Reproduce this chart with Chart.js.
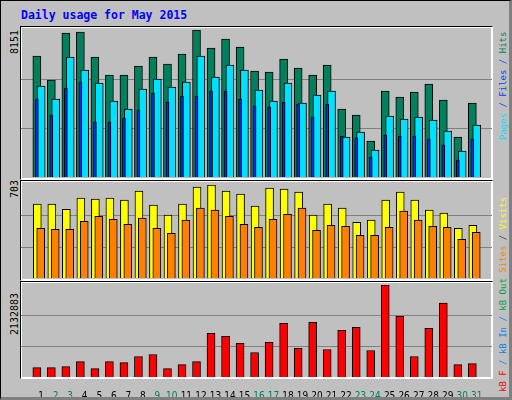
<!DOCTYPE html>
<html><head><meta charset="utf-8">
<script src="https://cdn.jsdelivr.net/npm/chart.js@4"></script>
<style>
body{margin:0;background:#fff;}
#wrap{position:absolute;left:0;top:0;width:508px;height:396px;background:#C0C0C0;border:1px solid #000;border-right:3px solid #808080;border-bottom:3px solid #808080;overflow:hidden;font-family:"DejaVu Sans Mono",monospace;}
.frame{position:absolute;border-top:1px solid #000;border-left:1px solid #000;border-right:1px solid #fff;border-bottom:1px solid #fff;box-shadow:0 0 0 1px #fff inset;}
canvas{position:absolute;}
.rot{position:absolute;transform-origin:0 0;transform:rotate(-90deg);white-space:nowrap;font-size:9px;line-height:10px;}
.title{position:absolute;left:20px;top:7px;color:#0000FF;font-weight:bold;font-size:11.5px;}
</style></head><body>
<div id="wrap">
<div class="title">Daily usage for May 2015</div>
<div class="frame" style="left:19px;top:25px;width:471px;height:152px"></div>
<div class="frame" style="left:19px;top:179px;width:471px;height:99px"></div>
<div class="frame" style="left:19px;top:280px;width:471px;height:96px"></div>
<canvas id="c1" style="left:20px;top:29px;width:471px;height:147px"></canvas>
<canvas id="c2" style="left:20px;top:184px;width:471px;height:93px"></canvas>
<canvas id="c3" style="left:20px;top:284px;width:471px;height:112px"></canvas>
<div class="rot" style="left:9px;top:53px;font-size:10px">8151</div>
<div class="rot" style="left:9px;top:197px;font-size:10px">703</div>
<div class="rot" style="left:9px;top:334px;font-size:10px">2132883</div>
<div class="rot" style="left:497px;top:139px"><span style="color:#00E0FF">Pages</span> <span style="color:#0040FF">/ Files /</span> <span style="color:#00805C">Hits</span></div>
<div class="rot" style="left:497px;top:391px"><span style="color:#FF0000">kB F</span> <span style="color:#0080FF">/ kB In /</span> <span style="color:#00A040">kB Out</span> <span style="color:#FF8000">Sites</span> <span style="color:#404040">/</span> <span style="color:#FFFF00">Visits</span></div>
</div>
<script>
const days=[1,2,3,4,5,6,7,8,9,10,11,12,13,14,15,16,17,18,19,20,21,22,23,24,25,26,27,28,29,30,31];
const weekend=[2,3,9,10,16,17,23,24,30,31];
const hits=[6709,5379,7985,8040,6654,5656,5656,6155,6654,6266,6820,8151,7153,7652,7209,5878,5822,6543,6044,5656,6210,3771,3438,1996,4769,4436,4713,5157,4270,2218,4103];
const files=[5046,4325,6654,5933,5212,4214,3771,4880,5434,4991,5268,6709,5545,6210,5933,4824,4214,5212,4103,4547,4769,2218,2495,1497,3382,3216,3327,3161,2551,1442,2883];
const pages=[4325,3438,4935,5268,3050,3050,3272,3715,4658,4159,4491,4491,4769,4769,4325,3937,3882,4159,4048,3327,4048,2273,2163,1109,2329,2273,2273,2107,1774,943,2107];
const visits=[558,558,520,604,596,604,589,657,551,475,558,688,703,657,635,543,680,673,650,475,558,528,421,437,589,650,589,513,490,376,398];
const sites=[376,368,368,429,467,444,406,452,376,338,437,528,513,467,406,383,444,482,528,360,398,391,322,322,383,505,437,391,383,292,345];
const kbytes=[217952,218000,241000,358000,195000,358000,335000,475000,522000,195000,288000,358000,1012000,942000,778000,568000,802000,1245000,662000,1269000,638000,1082000,1152000,615000,2132883,1409000,475000,1129000,1712000,288000,311000];
const maxima=[8151,703,2132883];

function ds(vals,shift,color,w){
  return {data:days.map((d,i)=>({x:d+shift,y:vals[i]})),backgroundColor:color,borderColor:'#000',borderWidth:1,barThickness:w,grouped:false,borderSkipped:'bottom'};
}
function mk(id,sets,max,showX){
  new Chart(document.getElementById(id),{type:'bar',data:{datasets:sets},
    options:{responsive:false,animation:false,devicePixelRatio:1,
      layout:{padding:0},
      plugins:{legend:{display:false},tooltip:{enabled:false}},
      scales:{
        x:{type:'linear',min:0.133,max:31.53,display:showX,
          afterBuildTicks:s=>{s.ticks=days.map(v=>({value:v}));},
          afterFit:s=>{s.height=showX?20:0;},
          grid:{display:false},border:{display:false},
          ticks:{padding:5,autoSkip:false,maxRotation:0,font:{family:'DejaVu Sans Condensed',size:10},
            color:c=>weekend.includes(c.tick.value)?'#008060':'#000'}},
        y:{min:0,max:max,display:true,
          afterBuildTicks:s=>{s.ticks=[max/3,2*max/3].map(v=>({value:v}));},
          afterFit:s=>{s.width=0;},
          ticks:{display:false},border:{display:false},grid:{color:'#808080',lineWidth:1,drawTicks:false}}
      }}});
}
for(const id of ['c1','c2','c3']){const c=document.getElementById(id);c.width=parseInt(c.style.width);c.height=parseInt(c.style.height);}
mk('c1',[ds(pages,-0.3,'#0030F0',3),ds(files,0,'#00E0FF',8),ds(hits,-0.3,'#00805C',8)],maxima[0],false);
mk('c2',[ds(sites,-0.033,'#FF8000',8),ds(visits,-0.267,'#FFFF00',8)],maxima[1],false);
mk('c3',[ds(kbytes,-0.3,'#FF0000',8)],maxima[2],true);
</script>
</body></html>
